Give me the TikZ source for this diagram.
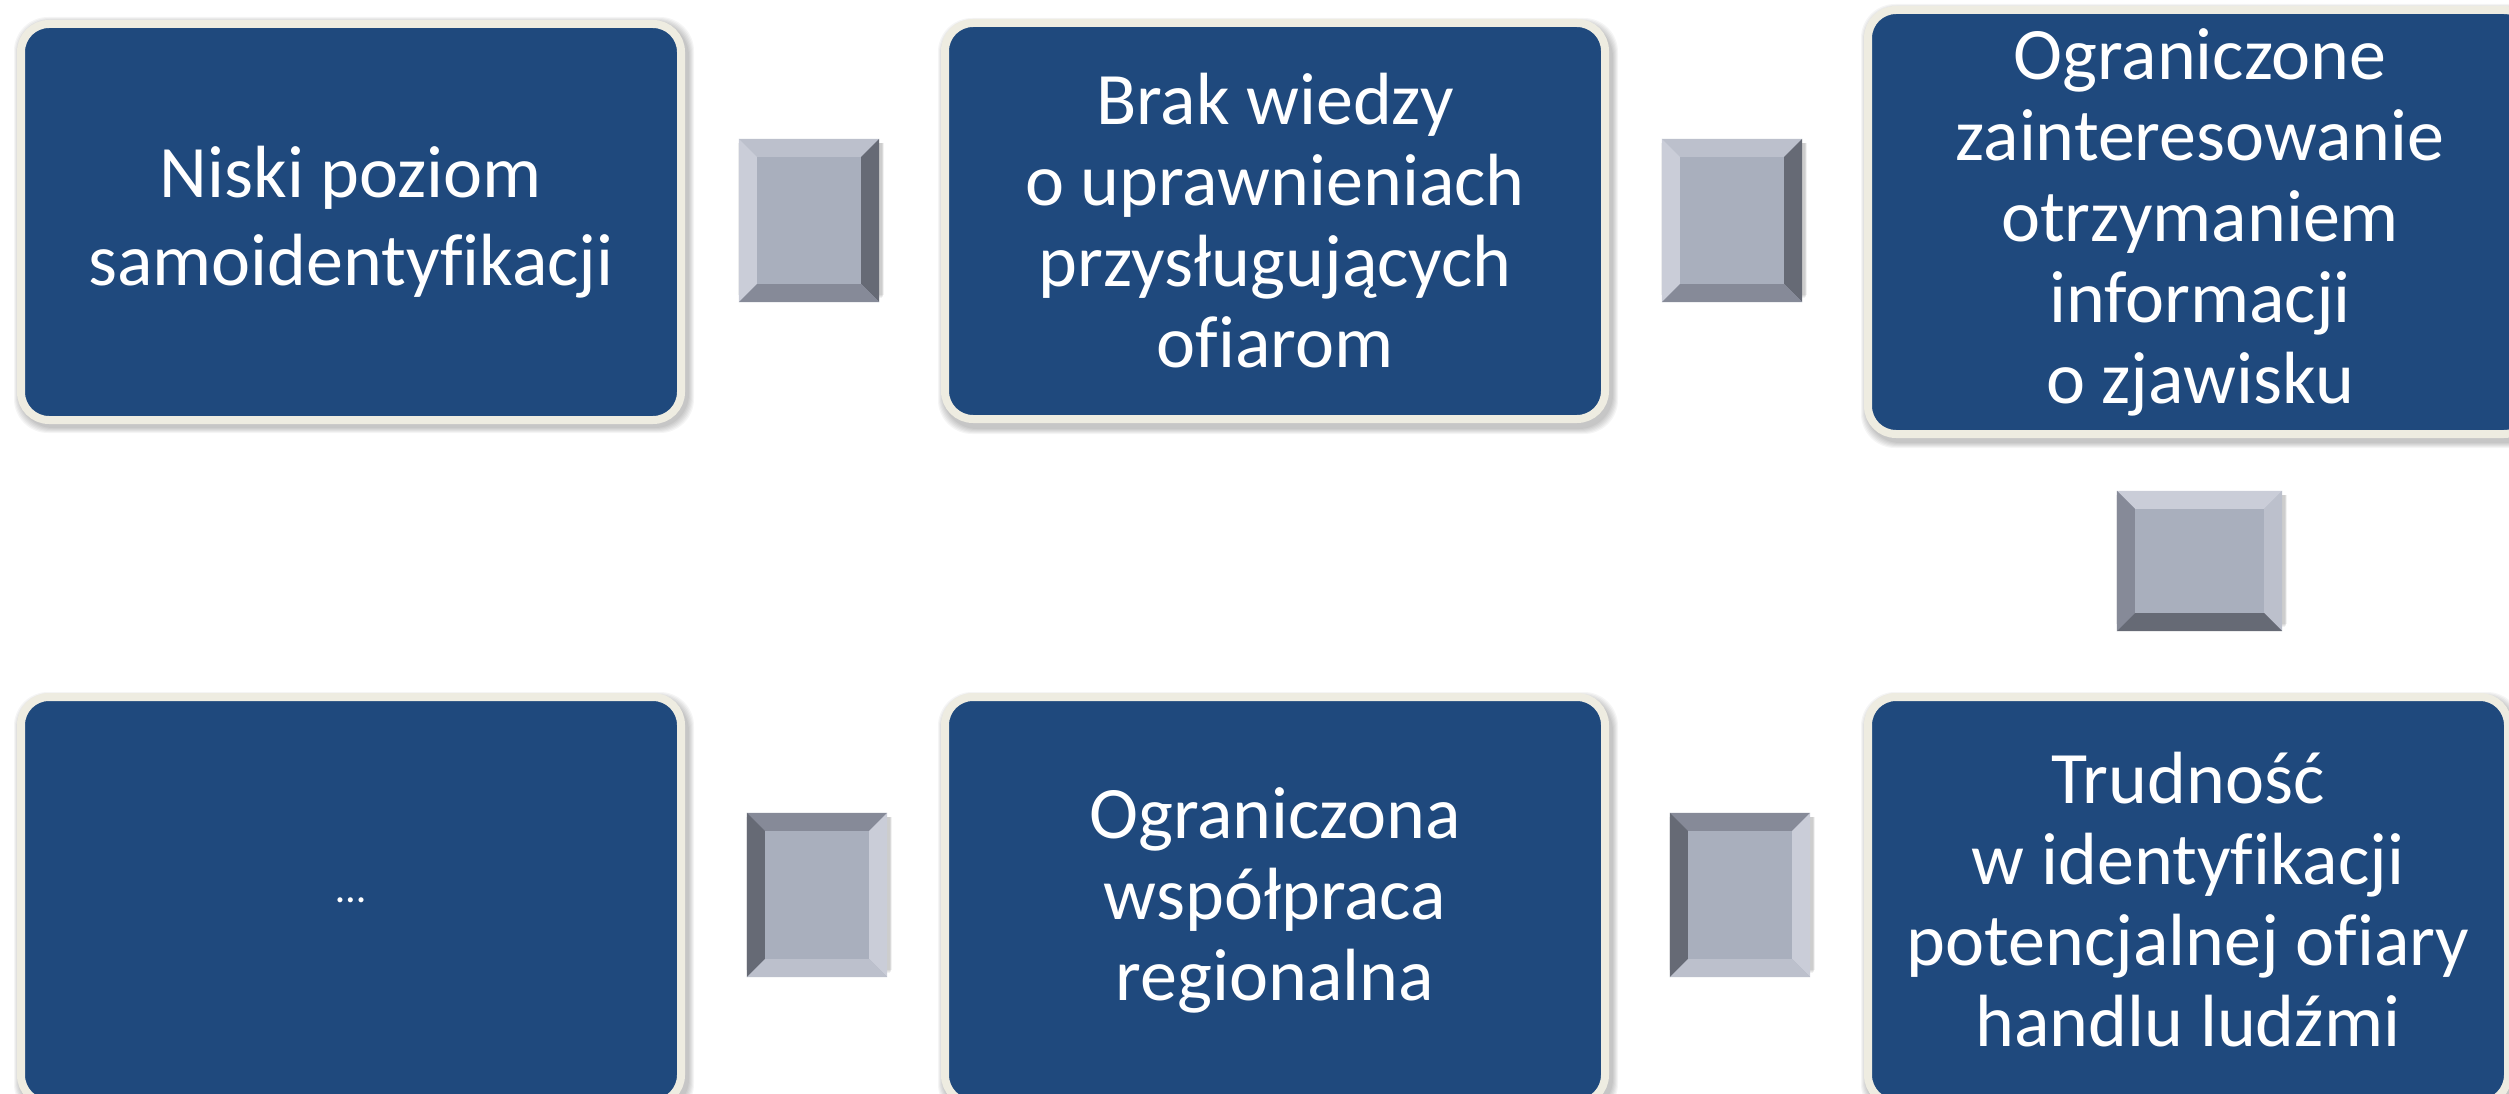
\documentclass[tikz,border=0pt]{standalone}
\usepackage{fontspec}
\setmainfont{Carlito}[Ligatures={NoCommon}]
\usetikzlibrary{calc}
\definecolor{boxblue}{HTML}{1F497D}
\definecolor{boxcream}{HTML}{EEECE1}
\definecolor{bvA}{HTML}{CACDD8}
\definecolor{bvB}{HTML}{BCC0CC}
\definecolor{bvC}{HTML}{868A98}
\definecolor{bvD}{HTML}{666A75}
\definecolor{bvM}{HTML}{A9AFBD}
\newcommand\cardshadow[4]{%
  \foreach \i in {1,...,6}{%
    \fill[black,opacity=0.04,rounded corners=34pt]
      (#1+3-\i,#2+5-\i) rectangle (#3+3+\i,#4+5+\i);
  }%
}
\newcommand\bevelsq[5]{%
  \foreach \i in {1,...,4}{%
    \fill[black,opacity=0.05]
      ($(#1.north west)+(2-\i*0.7,4)$) rectangle ($(#1.south east)+(2+\i*0.7,-3-\i)$);
  }%
  \fill[bvM] (#1.north west) rectangle (#1.south east);
  \fill[#2] (#1.north west) -- (#1.north east) -- ($(#1.north east)+(-18,18)$) -- ($(#1.north west)+(18,18)$) -- cycle;
  \fill[#3] (#1.north west) -- ($(#1.north west)+(18,18)$) -- ($(#1.south west)+(18,-18)$) -- (#1.south west) -- cycle;
  \fill[#4] (#1.north east) -- (#1.south east) -- ($(#1.south east)+(-18,-18)$) -- ($(#1.north east)+(-18,18)$) -- cycle;
  \fill[#5] (#1.south west) -- ($(#1.south west)+(18,-18)$) -- ($(#1.south east)+(-18,-18)$) -- (#1.south east) -- cycle;
}
\begin{document}
\begin{tikzpicture}[x=1pt,y=-1pt,
  card/.style={draw=boxcream, line width=8pt, fill=boxblue, rounded corners=28pt,
    text=white, align=center, inner sep=0pt, font=\fontsize{74}{81}\selectfont},
  sqr/.style={inner sep=0pt, draw=none, fill=none}]
\useasboundingbox[fill=white] (0,0) rectangle (2509,1094);

% shadows
\cardshadow{17}{18}{685}{422}
\cardshadow{941}{19}{1609}{423}
\cardshadow{1864}{5}{2536}{437}
\cardshadow{17}{693}{685}{1107}
\cardshadow{941}{693}{1609}{1107}
\cardshadow{1864}{693}{2512}{1107}

% cards
\node[card, minimum width=660pt, minimum height=396pt, font=\fontsize{74}{88}\selectfont] (b1) at (351,222)
  {Niski poziom\\samoidentyfikacji};
\node[card, minimum width=660pt, minimum height=396pt] (b2) at (1275,221)
  {Brak wiedzy\\o uprawnieniach\\przysługujących\\ofiarom};
\node[card, minimum width=664pt, minimum height=424pt] (b3) at (2200,222)
  {Ograniczone\\zainteresowanie\\otrzymaniem\\informacji\\o zjawisku};
\node[card, minimum width=660pt, minimum height=406pt, font=\fontsize{42}{50}\selectfont] (b4) at (351,900)
  {\raisebox{-6pt}{…}};
\node[card, minimum width=660pt, minimum height=406pt] (b5) at (1275,900)
  {Ograniczona\\współpraca\\regionalna};
\node[card, minimum width=640pt, minimum height=406pt] (b6) at (2188,900)
  {Trudność\\w identyfikacji\\potencjalnej ofiary\\handlu ludźmi};

% bevel connectors
\node[sqr, minimum width=140pt, minimum height=163pt] (s1) at (809,220.5) {};
\node[sqr, minimum width=140pt, minimum height=163pt] (s2) at (1732,220.5) {};
\node[sqr, minimum width=165pt, minimum height=140pt] (s3) at (2199.5,561) {};
\node[sqr, minimum width=140pt, minimum height=164pt] (s4) at (1740,895) {};
\node[sqr, minimum width=140pt, minimum height=164pt] (s5) at (817,895) {};

\bevelsq{s1}{bvB}{bvA}{bvD}{bvC}
\bevelsq{s2}{bvB}{bvA}{bvD}{bvC}
\bevelsq{s3}{bvA}{bvC}{bvB}{bvD}
\bevelsq{s4}{bvC}{bvD}{bvA}{bvB}
\bevelsq{s5}{bvC}{bvD}{bvA}{bvB}
\end{tikzpicture}
\end{document}
